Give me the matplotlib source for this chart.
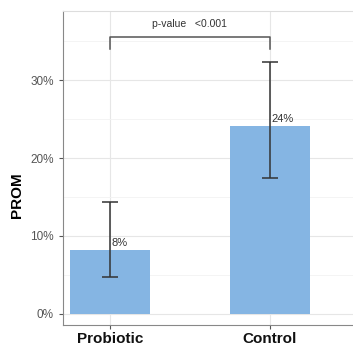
import matplotlib
matplotlib.use('Agg')
import matplotlib.pyplot as plt
from matplotlib.ticker import MultipleLocator, FuncFormatter

# Dữ liệu
groups = ['Probiotic', 'Control']
prom = [8.2, 24.1]
err_low = [4.7, 17.5]
err_high = [14.4, 32.3]
labels = ['8%', '24%']
p_text = 'p-value   <0.001'

plt.rcParams['font.family'] = ['Liberation Sans', 'DejaVu Sans']

fig = plt.figure(figsize=(3.53, 3.49), dpi=100)
ax = fig.add_axes([0.178, 0.069, 0.822, 0.899])

x = list(range(len(groups)))
yerr = [[p - lo for p, lo in zip(prom, err_low)],
        [hi - p for p, hi in zip(prom, err_high)]]

# Lưới
ax.yaxis.set_major_locator(MultipleLocator(10))
ax.yaxis.set_minor_locator(MultipleLocator(5))
ax.grid(True, which='major', color='#e6e6e6', linewidth=0.8)
ax.grid(True, which='minor', axis='y', color='#f2f2f2', linewidth=0.6)
ax.set_axisbelow(True)

# Cột và thanh sai số
ax.bar(x, prom, width=0.5, color='#85b5e3', zorder=2)
ax.errorbar(x, prom, yerr=yerr, fmt='none', ecolor='#333333',
            elinewidth=1.1, capsize=6, capthick=1.1, zorder=3)

for xi, p, lab in zip(x, prom, labels):
    ax.text(xi + 0.01, p + 0.3, lab, fontsize=8, color='#333333',
            ha='left', va='bottom', zorder=4)

# Dấu ngoặc p-value
ax.plot([0, 0, 1, 1], [34.0, 35.5, 35.5, 34.0], color='#555555',
        linewidth=1.1, zorder=4)
ax.text(0.5, 36.5, p_text, ha='center', va='bottom', fontsize=7.5,
        color='#333333')

ax.set_xlim(-0.294, 1.519)
ax.set_ylim(-1.41, 38.85)
ax.set_xticks(x)
ax.set_xticklabels(groups, fontsize=11, fontweight='bold', color='#111111')
ax.yaxis.set_major_formatter(FuncFormatter(lambda v, pos: f'{v:.0f}%'))
ax.tick_params(axis='y', which='major', labelsize=8.5, labelcolor='#555555',
               color='#555555', length=3, width=0.8)
ax.tick_params(axis='y', which='minor', length=0)
ax.tick_params(axis='x', length=3, color='#555555', width=0.8, pad=2)

ax.set_ylabel('PROM', fontsize=11, fontweight='bold')
ax.yaxis.set_label_coords(-0.135, 0.414)

ax.spines['right'].set_visible(False)
ax.spines['top'].set_color('#dddddd')
ax.spines['left'].set_color('#888888')
ax.spines['bottom'].set_color('#888888')

fig.savefig('out.png', dpi=100)
